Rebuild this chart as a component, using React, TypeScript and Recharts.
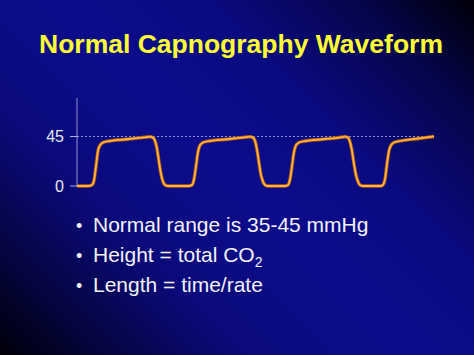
import React from "react";
import { LineChart, Line, XAxis, YAxis, ReferenceLine } from "recharts";

// time axis (arbitrary units) and CO2 values (mmHg)
const times: number[] = [
  0, 11, 15, 17, 19, 21, 23, 26, 30, 50, 70, 73, 76, 78, 80, 82, 84, 86, 88, 91,
  111, 115, 117, 119, 121, 123, 126, 130, 150, 170, 173, 176, 178, 180, 182, 184, 186, 188, 191,
  208, 211, 213, 215, 217, 219, 222, 226, 246, 266, 268, 271, 273, 275, 277, 279, 281, 283, 286,
  304, 306, 308, 310, 312, 314, 317, 321, 340, 357,
];
const co2: number[] = [
  0, 0, 1, 5, 18, 32, 37, 39.5, 40.5, 42.5, 44.5, 44.8, 44, 41, 34, 22, 11, 4, 1, 0,
  0, 1, 6, 18, 31, 37, 39.5, 40.5, 42.5, 44.5, 44.8, 44, 41, 33, 21, 10, 4, 1, 0,
  0, 1, 6, 18, 31, 37, 39.5, 40.5, 42.5, 44.5, 44.8, 44, 40, 32, 20, 10, 4, 1, 0,
  0, 1, 6, 20, 32, 37, 39.5, 40.5, 43, 45,
];
const yTicks: number[] = [0, 45];
const yDomain: [number, number] = [0, 80];
const xDomain: [number, number] = [0, 357];
const title = "Normal Capnography Waveform";
const bullets: string[] = ["Normal range is 35-45 mmHg", "Height = total CO", "Length = time/rate"];

const data = times.map((t, i) => ({ t, v: co2[i] }));

export default function App() {
  return (
    <div
      style={{
        position: "fixed",
        left: 0,
        top: 0,
        width: 474,
        height: 355,
        overflow: "hidden",
        background:
          "linear-gradient(45deg, #000008 0%, #04043c 12%, #0a0a7c 30%, #0c0c8c 50%, #0a0a80 68%, #05054a 86%, #000008 100%)",
        fontFamily: "'Liberation Sans', Arial, sans-serif",
      }}
    >
      <div
        style={{
          position: "absolute",
          left: 0,
          width: 474,
          top: 29,
          textAlign: "center",
          color: "#ffff33",
          fontWeight: "bold",
          fontSize: 26.5,
          lineHeight: "30px",
          paddingLeft: 4,
        }}
      >
        {title}
      </div>
      <div style={{ position: "absolute", left: 0, top: 0 }}>
        <LineChart
          width={474}
          height={355}
          data={data}
          margin={{ top: 98, right: 40, bottom: 169, left: 47 }}
        >
          <XAxis
            dataKey="t"
            type="number"
            domain={xDomain}
            tick={false}
            tickLine={false}
            axisLine={{ stroke: "#a8b0e8", strokeWidth: 1.5 }}
            height={0}
          />
          <YAxis
            type="number"
            domain={yDomain}
            ticks={yTicks}
            width={30}
            tickSize={7}
            tickMargin={6}
            tickLine={{ stroke: "#a8b0e8" }}
            axisLine={{ stroke: "#9090d0", strokeWidth: 1 }}
            tick={{ fill: "#e8e8f0", fontSize: 16, fontFamily: "'Liberation Sans', Arial, sans-serif" }}
          />
          <ReferenceLine y={45} stroke="#8890d8" strokeDasharray="2 2" strokeWidth={1} />
          <Line
            type="monotone"
            dataKey="v"
            stroke="#b85a10"
            strokeWidth={3.4}
            dot={false}
            isAnimationActive={false}
          />
          <Line
            type="monotone"
            dataKey="v"
            stroke="#ffb340"
            strokeWidth={1.8}
            dot={false}
            isAnimationActive={false}
          />
        </LineChart>
      </div>
      <div
        style={{
          position: "absolute",
          left: 76,
          top: 210,
          color: "#f2f2f8",
          fontSize: 21,
          lineHeight: "30px",
        }}
      >
        {bullets.map((b, i) => (
          <div key={i} style={{ display: "flex", alignItems: "baseline", height: 30 }}>
            <span style={{ width: 17, display: "inline-block", fontSize: 18 }}>•</span>
            <span>
              {b}
              {i === 1 ? (
                <span style={{ fontSize: 14, position: "relative", top: 5, lineHeight: 0 }}>2</span>
              ) : null}
            </span>
          </div>
        ))}
      </div>
    </div>
  );
}
